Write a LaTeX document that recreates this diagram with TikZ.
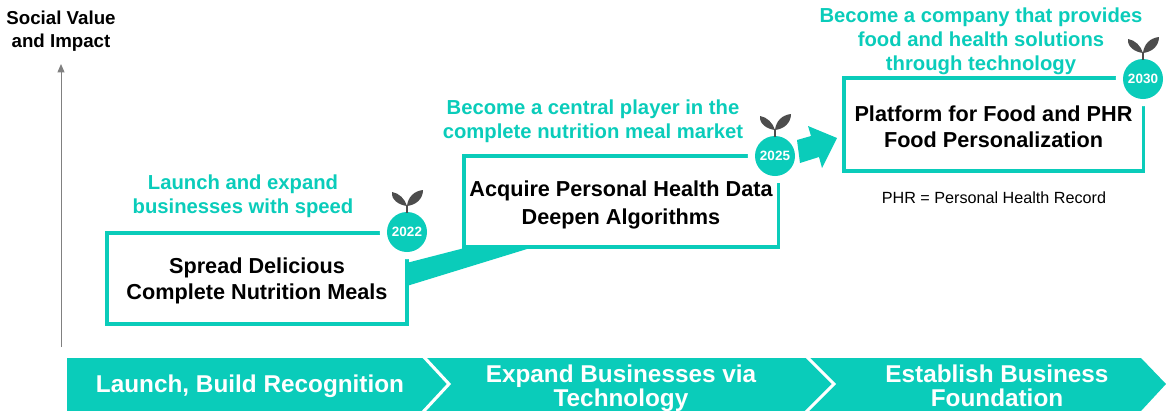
\documentclass[tikz,border=0pt]{standalone}
\usepackage{fontspec}
\setmainfont{Liberation Sans}
\usetikzlibrary{calc}
\usetikzlibrary{arrows.meta}
\definecolor{mint}{RGB}{10,204,186}
\definecolor{leafgray}{RGB}{77,77,77}
\newcommand{\toppad}{\rule{0pt}{14.5pt}}
\tikzset{stagebox/.style={rectangle,draw=mint,line width=2.2pt,align=center,inner sep=0pt,font=\fontsize{15.4}{18}\selectfont\bfseries}}
\tikzset{goal/.style={align=center,text=mint,inner sep=0pt,font=\fontsize{14.4}{17}\selectfont\bfseries}}
\tikzset{badge/.style={circle,fill=mint,text=white,minimum size=1cm,inner sep=0pt,font=\fontsize{9.6}{11}\selectfont\bfseries,preaction={draw=white,line width=0.36cm}}}
\tikzset{band/.style={align=center,text=white,inner sep=0pt,font=\fontsize{17.3}{17}\selectfont\bfseries}}
\tikzset{sprout/.pic={
\draw[leafgray,line width=1.2pt] (0,-19) -- (0,-27);
\fill[leafgray] (0,-26) .. controls (-2,-33) and (-8,-39) .. (-15,-40) .. controls (-16,-32) and (-8,-27) .. (0,-26);
\fill[leafgray] (0,-26) .. controls (1,-35) and (7,-41) .. (16,-42) .. controls (16,-33) and (9,-27) .. (0,-26);
}}

\begin{document}
\begin{tikzpicture}[x=0.025cm,y=-0.025cm]
\useasboundingbox (0,0) rectangle (1166,410);

% axis
\node[inner sep=0pt,align=center,font=\fontsize{13.3}{16.4}\selectfont\bfseries] (axislabel) at (61,31) {Social Value\\and Impact};
\coordinate (axisfoot) at (61,347);
\coordinate (axistop) at (61,64);
\draw[-{Triangle[length=6pt,width=5pt]},gray,line width=0.7pt] (axisfoot) -- (axistop);

% stages
\node[stagebox,minimum width=7.5cm,minimum height=2.275cm] (spread) at (257,278.5) {\toppad Spread Delicious\\Complete Nutrition Meals};
\node[stagebox,minimum width=7.85cm,minimum height=2.275cm] (acquire) at (621,201.5) {\rule{0pt}{16pt}Acquire Personal Health Data\\[1.5pt]Deepen Algorithms};
\node[stagebox,minimum width=7.475cm,minimum height=2.325cm] (platform) at (993.5,124.5) {\toppad Platform for Food and PHR\\Food Personalization};

% badges
\node[badge] (y2022) at (407,232) {2022};
\node[badge] (y2025) at (775,156) {2025};
\node[badge] (y2030) at (1143,79) {2030};
\pic at (y2022.center) {sprout};
\pic at (y2025.center) {sprout};
\pic at (y2030.center) {sprout};

% links between stages
\fill[mint] ($(spread.north east)+(0,31)$) -- ($(acquire.south west)+(0,0)$) -- ($(acquire.south west)+(66,0)$) -- ($(spread.north east)+(0,54)$) -- cycle;
\fill[mint] (797,140) -- (811,136) -- (808,126) -- (837,138) -- (822,168) -- (819,157) -- (800,163) -- cycle;

% goals
\node[goal] (goalA) at (243,196) {Launch and expand\\businesses with speed};
\node[goal] (goalB) at (593,121) {Become a central player in the\\complete nutrition meal market};
\node[goal] (goalC) at (981,41) {Become a company that provides\\food and health solutions\\through technology};
\node[inner sep=0pt,font=\fontsize{11.5}{13}\selectfont] (phrnote) at (994,198) {PHR = Personal Health Record};

% bottom band
\fill[mint] (67,358) -- (1141,358) -- (1166,384) -- (1141,411) -- (67,411) -- cycle;
\draw[white,line width=2.2pt] (423,356) -- (449,384) -- (423,412);
\draw[white,line width=2.2pt] (806,356) -- (834,384) -- (806,412);
\node[band] (bandA) at (250,386) {Launch, Build Recognition};
\node[band] (bandB) at (621,388) {Expand Businesses via\\Technology};
\node[band] (bandC) at (997,386) {Establish Business\\Foundation};
\end{tikzpicture}
\end{document}
